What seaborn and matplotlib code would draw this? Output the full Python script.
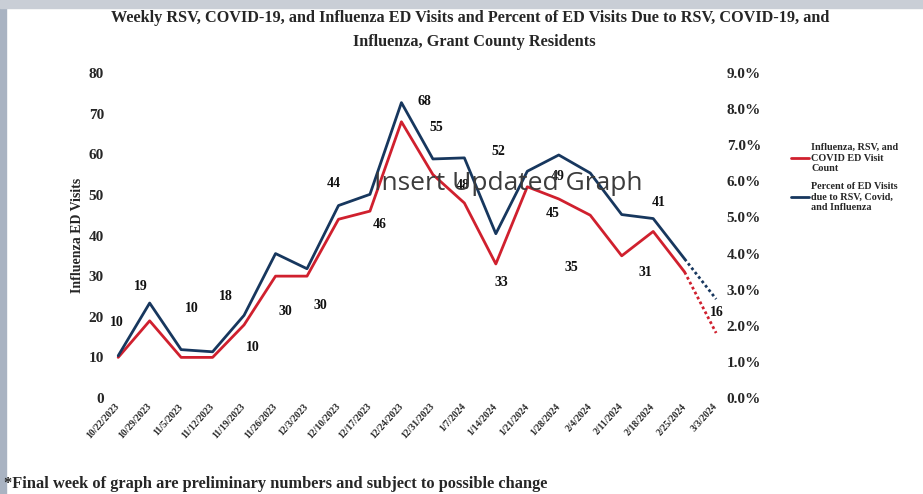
import numpy as np
import pandas as pd
import seaborn as sns
import matplotlib.pyplot as plt
from matplotlib.ticker import FuncFormatter
from matplotlib.lines import Line2D
from matplotlib.patches import Rectangle

weeks = ['10/22/2023', '10/29/2023', '11/5/2023', '11/12/2023', '11/19/2023',
         '11/26/2023', '12/3/2023', '12/10/2023', '12/17/2023', '12/24/2023',
         '12/31/2023', '1/7/2024', '1/14/2024', '1/21/2024', '1/28/2024',
         '2/4/2024', '2/11/2024', '2/18/2024', '2/25/2024', '3/3/2024']
visit_count = [10, 19, 10, 10, 18, 30, 30, 44, 46, 68, 55, 48, 33, 52, 49, 45, 35, 41, 31, 16]
pct_visits = [1.17, 2.63, 1.34, 1.28, 2.29, 4.0, 3.58, 5.33, 5.64, 8.18, 6.62, 6.65, 4.55,
              6.28, 6.73, 6.23, 5.08, 4.97, 3.85, 2.74]

# where each data label sits relative to its point (pixels), like the Excel layout
label_offsets = [(-1, 35), (-9, 34), (11, 49), (40, 10), (-18, 28), (10, -35), (13, -29),
                 (-5, 36), (10, -13), (23, 20), (3, 47), (-2, 18), (6, -19), (-29, 35),
                 (-1, 22), (-38, 2), (-50, -12), (5, 29), (-39, 0), (1, 21)]

df = pd.DataFrame({'week': weeks, 'idx': np.arange(len(weeks)),
                   'count': visit_count, 'pct': np.array(pct_visits) / 100})
solid = df.iloc[:-1]
last = df.iloc[-2:]

sns.set_style("white")
plt.rcParams['font.family'] = ['Liberation Serif', 'DejaVu Serif']
plt.rcParams['font.weight'] = 'bold'

red = '#d0202e'
blue = '#17375e'

fig = plt.figure(figsize=(9.23, 4.94), dpi=100)
# faint scan edge seen on the reference
fig.patches.append(Rectangle((0, 0), 0.006, 1, transform=fig.transFigure, color='#a9b3c2', zorder=0))
fig.patches.append(Rectangle((0, 0.984), 1, 0.016, transform=fig.transFigure, color='#c9ced6', zorder=0))

ax = fig.add_axes([0.1127, 0.1943, 0.6717, 0.6579])
ax2 = ax.twinx()

sns.lineplot(data=solid, x='idx', y='count', ax=ax, color=red, linewidth=2)
ax.plot(last['idx'], last['count'], color=red, linewidth=2, linestyle=(0, (1, 1)))
sns.lineplot(data=solid, x='idx', y='pct', ax=ax2, color=blue, linewidth=2)
ax2.plot(last['idx'], last['pct'], color=blue, linewidth=2, linestyle=(0, (1, 1)))

for i, v in enumerate(visit_count):
    ax.annotate(str(v), (i, v), xytext=label_offsets[i], textcoords='offset pixels',
                ha='center', va='center', fontsize=10, fontweight='bold', color='#111111')

ax.set_xlim(-0.45, 19.25)
ax.set_ylim(0, 80)
ax2.set_ylim(0, 0.09)
ax.set_yticks(range(0, 81, 10))
ax2.set_yticks(np.arange(0, 0.0901, 0.01))
ax2.yaxis.set_major_formatter(FuncFormatter(lambda y, _: f'{y*100:.1f}%'))

ax.set_xticks(df['idx'])
ax.set_xticklabels(weeks, rotation=48, ha='right', va='center', rotation_mode='anchor',
                   fontsize=7, fontweight='bold')
ax.tick_params(axis='x', length=0, pad=5)
ax.tick_params(axis='y', length=0, pad=0, labelsize=11)
ax2.tick_params(axis='y', length=0, pad=2, labelsize=11)

ax.set_xlabel('')
ax.set_ylabel('Influenza ED Visits', fontsize=10, fontweight='bold', labelpad=3)
ax2.set_ylabel('')
for a in (ax, ax2):
    for s in a.spines.values():
        s.set_visible(False)

handles = [Line2D([], [], color=red, linewidth=2),
           Line2D([], [], color=blue, linewidth=2)]
fig.legend(handles, ['Influenza, RSV, and\nCOVID ED Visit\nCount',
                     'Percent of ED Visits\ndue to RSV, Covid,\nand Influenza'],
           loc='upper left', bbox_to_anchor=(0.857, 0.71), frameon=False,
           fontsize=7.3, handlelength=1.8, handletextpad=0.2, labelspacing=0.9,
           borderpad=0, borderaxespad=0)

fig.text(0.509, 1 - 18 / 494, 'Weekly RSV, COVID-19, and Influenza ED Visits and Percent of ED Visits Due to RSV, COVID-19, and',
         ha='center', va='center', fontsize=11.7, fontweight='bold')
fig.text(0.514, 1 - 42 / 494, 'Influenza, Grant County Residents',
         ha='center', va='center', fontsize=11.7, fontweight='bold')
fig.text(0.551, 1 - 183 / 494, 'Insert Updated Graph', ha='center', va='center',
         fontsize=19, color='#3c3c3c', family='Open Sans', fontweight='normal', zorder=5)
fig.text(0.004, 1 - 484 / 494,
         '*Final week of graph are preliminary numbers and subject to possible change',
         ha='left', va='center', fontsize=11.8, fontweight='bold')

fig.savefig('out.png', dpi=100)
